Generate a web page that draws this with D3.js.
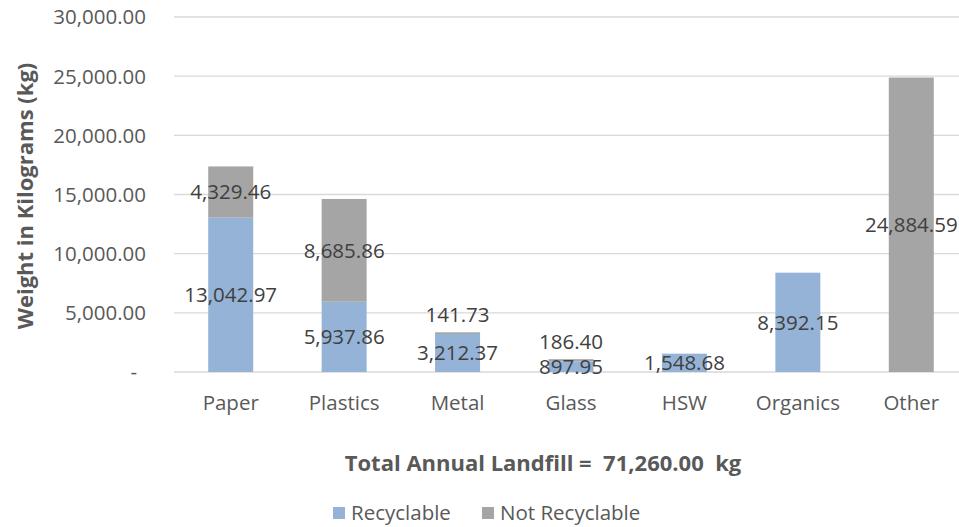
<!DOCTYPE html>
<html><head><meta charset="utf-8">
<script src="https://cdn.jsdelivr.net/npm/d3@7"></script>
<style>
html,body{margin:0;padding:0;background:#fff;overflow:hidden;}
svg{display:block;font-family:"Open Sans",sans-serif;}
</style></head>
<body><svg id="c" width="959" height="527"></svg>
<script>
const categories = ["Paper","Plastics","Metal","Glass","HSW","Organics","Other"];
const recyclable = [13042.97, 5937.86, 3212.37, 897.95, 1548.68, 8392.15, 0];
const notRecyclable = [4329.46, 8685.86, 141.73, 186.40, 0, 0, 24884.59];
const seriesNames = ["Recyclable","Not Recyclable"];
const yTicks = [0, 5000, 10000, 15000, 20000, 25000, 30000];
const yTitle = "Weight in Kilograms (kg)";
const xTitle = "Total Annual Landfill =  71,260.00  kg";
const colors = ["#95B3D7", "#A5A5A5"];

(function(){
const svg = d3.select("#c");
const pL = 174, pR = 968, pT = 17, pB = 372;

const x = d3.scaleBand().domain(categories).range([pL, pR]).paddingInner(0.6).paddingOuter(0.3);
const y = d3.scaleLinear().domain([0, 30000]).range([pB, pT]);

const fmt = d3.format(",.2f");
const textCol = "#595959", labelCol = "#404040";

svg.append("g").selectAll("line").data(yTicks).join("line")
  .attr("x1", pL).attr("x2", 959)
  .attr("y1", d => y(d)).attr("y2", d => y(d))
  .attr("stroke", "#D9D9D9").attr("stroke-width", 1.3);

svg.append("g").selectAll("text").data(yTicks).join("text")
  .attr("x", d => d === 0 ? 137 : 146).attr("y", d => y(d)).attr("dy", "0.36em")
  .attr("text-anchor", "end").attr("fill", textCol).attr("font-size", 20.5)
  .text(d => d === 0 ? "-" : fmt(d));

const rows = categories.map((c, i) => ({cat: c, "Recyclable": recyclable[i], "Not Recyclable": notRecyclable[i]}));
const stack = d3.stack().keys(seriesNames)(rows);
const bw = 45;
stack.forEach((s, si) => {
  svg.append("g").selectAll("rect").data(s.filter(d => d[1] - d[0] > 0)).join("rect")
    .attr("x", d => x(d.data.cat) + x.bandwidth()/2 - bw/2)
    .attr("width", bw)
    .attr("y", d => y(d[1]))
    .attr("height", d => y(d[0]) - y(d[1]))
    .attr("fill", colors[si]);
});

const labels = [];
categories.forEach((c, i) => {
  const cx = x(c) + x.bandwidth()/2;
  let ry = null, ny = null;
  if (recyclable[i] > 0) ry = y(recyclable[i] / 2);
  if (notRecyclable[i] > 0) ny = y(recyclable[i] + notRecyclable[i] / 2);
  if (ry !== null && ny !== null && ry - ny < 24) {
    ny = Math.min(ny, ry - 23);
    const topY = y(recyclable[i] + notRecyclable[i]);
    if (topY > ny) ny = Math.min(ny, topY - 18);
  }
  if (ry !== null) labels.push({x: cx, y: ry, t: fmt(recyclable[i])});
  if (ny !== null) labels.push({x: cx, y: ny, t: fmt(notRecyclable[i])});
});
svg.append("g").selectAll("text").data(labels).join("text")
  .attr("x", d => d.x).attr("y", d => d.y).attr("dy", "0.36em")
  .attr("text-anchor", "middle").attr("fill", labelCol).attr("font-size", 20.5)
  .text(d => d.t);

svg.append("g").selectAll("text").data(categories).join("text")
  .attr("x", d => x(d) + x.bandwidth()/2).attr("y", 403).attr("dy", "0.36em")
  .attr("text-anchor", "middle").attr("fill", textCol).attr("font-size", 20.5)
  .text(d => d);

svg.append("text").attr("transform", "translate(25,196) rotate(-90)")
  .attr("text-anchor", "middle").attr("dy", "0.36em").attr("fill", textCol)
  .attr("font-size", 22).attr("font-weight", "bold").text(yTitle);
svg.append("text").attr("x", 543).attr("y", 463).attr("dy", "0.36em")
  .attr("text-anchor", "middle").attr("fill", textCol).attr("font-size", 22)
  .attr("font-weight", "bold").style("white-space", "pre").text(xTitle);

const lg = svg.append("g");
const legendX = [333, 482];
seriesNames.forEach((n, i) => {
  lg.append("rect").attr("x", legendX[i]).attr("y", 507).attr("width", 12).attr("height", 12).attr("fill", colors[i]);
  lg.append("text").attr("x", legendX[i] + 18).attr("y", 513).attr("dy", "0.36em")
    .attr("fill", textCol).attr("font-size", 20.5).text(n);
});
})();
</script></body></html>
